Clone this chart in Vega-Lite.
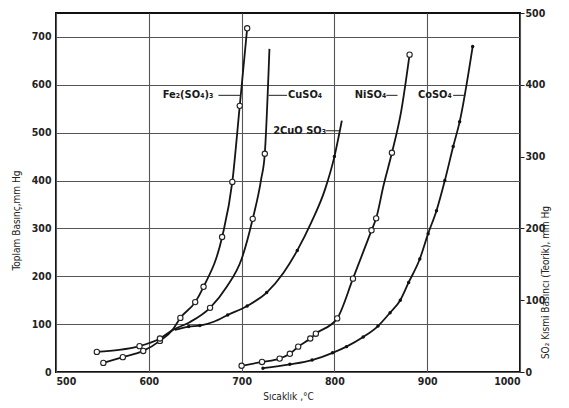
{
  "$schema": "https://vega.github.io/schema/vega-lite/v6.json",
  "width": 464,
  "height": 359,
  "autosize": {"type": "none"},
  "padding": {"left": 56, "top": 13, "right": 49, "bottom": 36},
  "background": "#ffffff",
  "config": {
    "view": {"stroke": "#111111", "strokeWidth": 2},
    "font": "DejaVu Sans Condensed",
    "axis": {
      "labelFont": "DejaVu Sans Condensed",
      "labelFontWeight": "bold",
      "labelFontSize": 10.5,
      "labelColor": "#222222",
      "titleFont": "DejaVu Sans Condensed",
      "titleFontWeight": "normal",
      "titleFontSize": 10,
      "titleColor": "#222222",
      "domain": false,
      "gridColor": "#555555",
      "gridWidth": 1.1
    }
  },
  "datasets": {
    "curves": [
      {"series": "Fe2(SO4)3", "T": 551, "P": 19, "pt": true},
      {"series": "Fe2(SO4)3", "T": 572, "P": 31, "pt": true},
      {"series": "Fe2(SO4)3", "T": 594, "P": 44, "pt": true},
      {"series": "Fe2(SO4)3", "T": 612, "P": 65, "pt": true},
      {"series": "Fe2(SO4)3", "T": 626, "P": 89, "pt": false},
      {"series": "Fe2(SO4)3", "T": 634, "P": 113, "pt": true},
      {"series": "Fe2(SO4)3", "T": 650, "P": 146, "pt": true},
      {"series": "Fe2(SO4)3", "T": 659, "P": 178, "pt": true},
      {"series": "Fe2(SO4)3", "T": 679, "P": 282, "pt": true},
      {"series": "Fe2(SO4)3", "T": 690, "P": 397, "pt": true},
      {"series": "Fe2(SO4)3", "T": 698, "P": 556, "pt": true},
      {"series": "Fe2(SO4)3", "T": 706, "P": 718, "pt": true},

      {"series": "CuSO4", "T": 544, "P": 42, "pt": true},
      {"series": "CuSO4", "T": 568, "P": 46, "pt": false},
      {"series": "CuSO4", "T": 590, "P": 54, "pt": true},
      {"series": "CuSO4", "T": 612, "P": 70, "pt": true},
      {"series": "CuSO4", "T": 626, "P": 88, "pt": false},
      {"series": "CuSO4", "T": 644, "P": 104, "pt": false},
      {"series": "CuSO4", "T": 666, "P": 134, "pt": true},
      {"series": "CuSO4", "T": 684, "P": 178, "pt": false},
      {"series": "CuSO4", "T": 700, "P": 236, "pt": false},
      {"series": "CuSO4", "T": 712, "P": 320, "pt": true},
      {"series": "CuSO4", "T": 721, "P": 402, "pt": false},
      {"series": "CuSO4", "T": 725, "P": 456, "pt": true},
      {"series": "CuSO4", "T": 730, "P": 675, "pt": false},

      {"series": "2CuO SO3", "T": 628, "P": 88, "pt": false},
      {"series": "2CuO SO3", "T": 643, "P": 95, "pt": true},
      {"series": "2CuO SO3", "T": 655, "P": 97, "pt": true},
      {"series": "2CuO SO3", "T": 670, "P": 105, "pt": false},
      {"series": "2CuO SO3", "T": 685, "P": 119, "pt": true},
      {"series": "2CuO SO3", "T": 706, "P": 138, "pt": true},
      {"series": "2CuO SO3", "T": 727, "P": 166, "pt": true},
      {"series": "2CuO SO3", "T": 745, "P": 207, "pt": false},
      {"series": "2CuO SO3", "T": 760, "P": 254, "pt": true},
      {"series": "2CuO SO3", "T": 775, "P": 312, "pt": false},
      {"series": "2CuO SO3", "T": 790, "P": 382, "pt": false},
      {"series": "2CuO SO3", "T": 800, "P": 450, "pt": true},
      {"series": "2CuO SO3", "T": 808, "P": 525, "pt": false},

      {"series": "NiSO4", "T": 700, "P": 13, "pt": true},
      {"series": "NiSO4", "T": 722, "P": 21, "pt": true},
      {"series": "NiSO4", "T": 741, "P": 28, "pt": true},
      {"series": "NiSO4", "T": 752, "P": 38, "pt": true},
      {"series": "NiSO4", "T": 761, "P": 53, "pt": true},
      {"series": "NiSO4", "T": 774, "P": 70, "pt": true},
      {"series": "NiSO4", "T": 780, "P": 80, "pt": true},
      {"series": "NiSO4", "T": 803, "P": 112, "pt": true},
      {"series": "NiSO4", "T": 820, "P": 195, "pt": true},
      {"series": "NiSO4", "T": 840, "P": 296, "pt": true},
      {"series": "NiSO4", "T": 845, "P": 321, "pt": true},
      {"series": "NiSO4", "T": 853, "P": 390, "pt": false},
      {"series": "NiSO4", "T": 862, "P": 458, "pt": true},
      {"series": "NiSO4", "T": 872, "P": 545, "pt": false},
      {"series": "NiSO4", "T": 881, "P": 663, "pt": true},

      {"series": "CoSO4", "T": 723, "P": 8, "pt": true},
      {"series": "CoSO4", "T": 752, "P": 16, "pt": true},
      {"series": "CoSO4", "T": 776, "P": 25, "pt": true},
      {"series": "CoSO4", "T": 798, "P": 40, "pt": true},
      {"series": "CoSO4", "T": 813, "P": 53, "pt": true},
      {"series": "CoSO4", "T": 831, "P": 73, "pt": true},
      {"series": "CoSO4", "T": 847, "P": 96, "pt": true},
      {"series": "CoSO4", "T": 860, "P": 124, "pt": true},
      {"series": "CoSO4", "T": 871, "P": 150, "pt": true},
      {"series": "CoSO4", "T": 880, "P": 187, "pt": true},
      {"series": "CoSO4", "T": 892, "P": 236, "pt": true},
      {"series": "CoSO4", "T": 901, "P": 289, "pt": true},
      {"series": "CoSO4", "T": 910, "P": 337, "pt": true},
      {"series": "CoSO4", "T": 919, "P": 400, "pt": true},
      {"series": "CoSO4", "T": 928, "P": 471, "pt": true},
      {"series": "CoSO4", "T": 935, "P": 523, "pt": true},
      {"series": "CoSO4", "T": 949, "P": 680, "pt": true}
    ],
    "labels": [
      {"label": "Fe₂(SO₄)₃", "Tt": 615, "Ta": 675, "Tb": 699, "P": 578},
      {"label": "CuSO₄", "Tt": 750, "Ta": 729, "Tb": 749, "P": 578},
      {"label": "2CuO SO₃", "Tt": 734, "Ta": 791, "Tb": 805, "P": 504},
      {"label": "NiSO₄", "Tt": 822, "Ta": 856, "Tb": 868, "P": 578},
      {"label": "CoSO₄", "Tt": 890, "Ta": 928, "Tb": 941, "P": 578}
    ]
  },
  "resolve": {"scale": {"y": "independent"}, "axis": {"y": "independent"}},
  "layer": [
    {
      "layer": [
        {
          "data": {"name": "curves"},
          "mark": {"type": "line", "interpolate": "monotone", "color": "#151515", "strokeWidth": 1.8},
          "encoding": {
            "x": {
              "field": "T", "type": "quantitative",
              "scale": {"domain": [500, 1000], "nice": false},
              "axis": {
                "values": [500, 600, 700, 800, 900, 1000],
                "format": "d",
                "grid": true, "gridColor": "#555555",
                "ticks": false, "labelPadding": 4,
                "title": "Sıcaklık ,°C", "titlePadding": 5
              }
            },
            "y": {
              "field": "P", "type": "quantitative",
              "scale": {"domain": [0, 750], "nice": false, "zero": true},
              "axis": {
                "orient": "left",
                "values": [0, 100, 200, 300, 400, 500, 600, 700],
                "format": "d",
                "grid": true, "ticks": false, "labelPadding": 5,
                "title": "Toplam Basınç,mm Hg", "titlePadding": 10, "titleY": 207
              }
            },
            "detail": {"field": "series"}
          }
        },
        {
          "data": {"name": "curves"},
          "transform": [
            {"filter": "datum.pt"},
            {"filter": {"field": "series", "oneOf": ["Fe2(SO4)3", "CuSO4", "NiSO4"]}}
          ],
          "mark": {"type": "point", "shape": "circle", "filled": true, "fill": "#ffffff", "stroke": "#222222", "strokeWidth": 1.1, "size": 28, "opacity": 1},
          "encoding": {
            "x": {"field": "T", "type": "quantitative"},
            "y": {"field": "P", "type": "quantitative"}
          }
        },
        {
          "data": {"name": "curves"},
          "transform": [
            {"filter": "datum.pt"},
            {"filter": {"field": "series", "oneOf": ["2CuO SO3", "CoSO4"]}}
          ],
          "mark": {"type": "point", "shape": "circle", "filled": true, "color": "#111111", "size": 12, "opacity": 1},
          "encoding": {
            "x": {"field": "T", "type": "quantitative"},
            "y": {"field": "P", "type": "quantitative"}
          }
        },
        {
          "data": {"name": "labels"},
          "mark": {"type": "rule", "color": "#222222", "strokeWidth": 1},
          "encoding": {
            "x": {"field": "Ta", "type": "quantitative"},
            "x2": {"field": "Tb"},
            "y": {"field": "P", "type": "quantitative"}
          }
        },
        {
          "data": {"name": "labels"},
          "mark": {"type": "text", "align": "left", "baseline": "middle", "font": "DejaVu Sans Condensed", "fontWeight": "bold", "fontSize": 11, "color": "#1a1a1a"},
          "encoding": {
            "x": {"field": "Tt", "type": "quantitative"},
            "y": {"field": "P", "type": "quantitative"},
            "text": {"field": "label"}
          }
        }
      ]
    },
    {
      "data": {"values": [{"S": 0}, {"S": 500}]},
      "mark": {"type": "point", "opacity": 0},
      "encoding": {
        "y": {
          "field": "S", "type": "quantitative",
          "scale": {"domain": [0, 500], "nice": false},
          "axis": {
            "orient": "right",
            "values": [0, 100, 200, 300, 400, 500],
            "format": "d",
            "grid": false, "ticks": true, "tickSize": 4, "tickColor": "#222222",
            "labelPadding": 1,
            "title": "SO₂ Kısmi Basıncı (Teorik), mm Hg",
            "titlePadding": 6, "titleAngle": -90, "titleY": 269
          }
        }
      }
    }
  ]
}
